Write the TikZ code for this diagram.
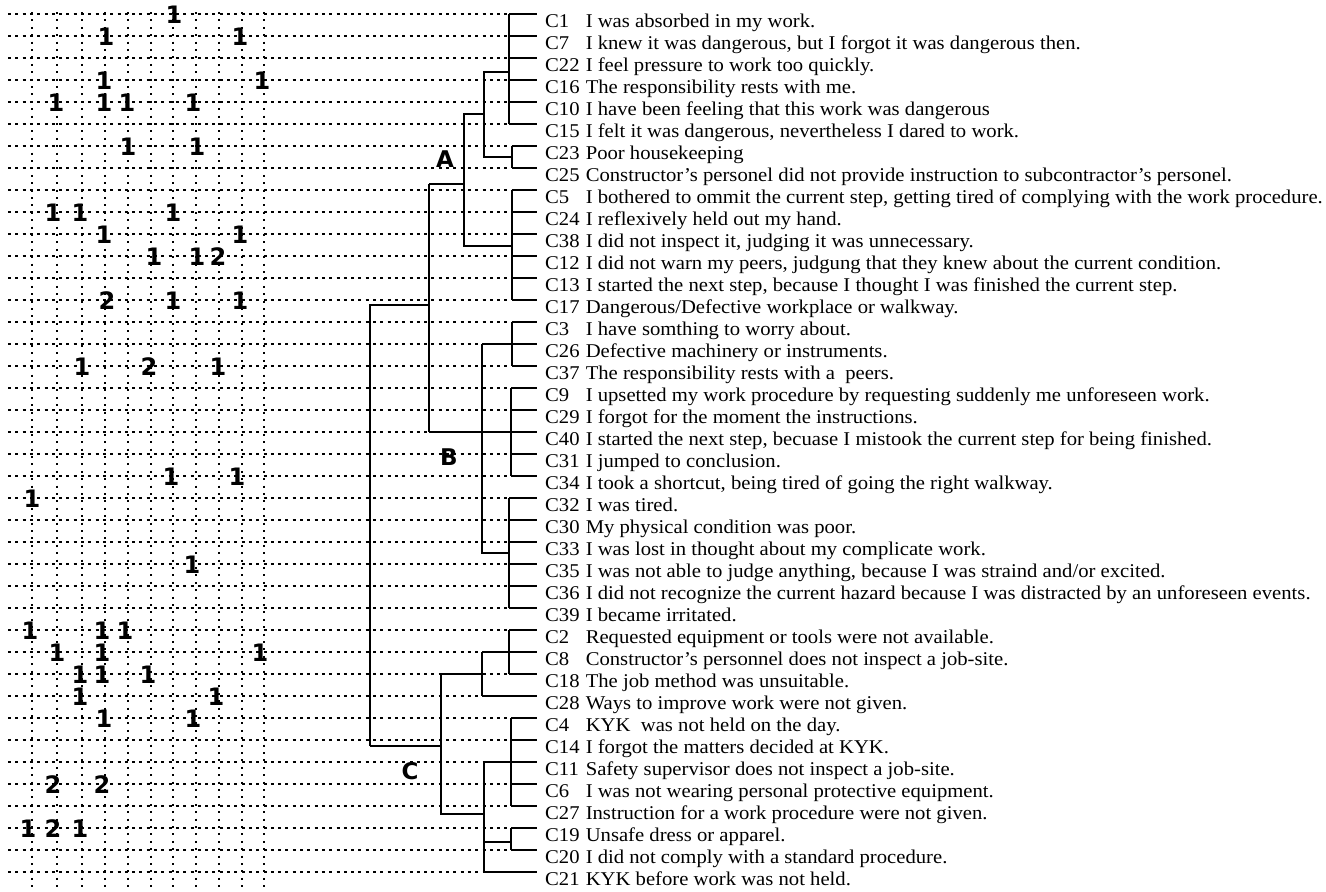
\documentclass[tikz,border=0pt]{standalone}
\usepackage{fontspec}
\setmainfont{Liberation Serif}[FakeStretch=1.06]
\newfontfamily\digitfont{DejaVu Sans}
\usepackage{xcolor}

% fixed slot for the item code
\newcommand{\codebox}[1]{\makebox[2.08em][l]{#1}}

\begin{document}
\begin{tikzpicture}[x=1pt,y=-1pt,
  rowline/.style={line width=1.5pt, dash pattern=on 3pt off 4.3pt},
  colline/.style={line width=1.6pt, dash pattern=on 2pt off 5.4pt},
  tree/.style={line width=1.6pt},
  cnt/.style={font=\digitfont\bfseries\fontsize{24}{24}\selectfont, inner sep=0pt},
  lab/.style={anchor=base west, inner sep=0pt, font=\fontsize{19.5}{19.5}\selectfont},
  grp/.style={font=\digitfont\bfseries\fontsize{23}{23}\selectfont, inner sep=0pt}]

\useasboundingbox (0,0) rectangle (1326,892);

% Grid: 11 dotted columns
\foreach \x in {32,57,82,105,128,151,173,196,219,242,264}
  \draw[colline] (\x,12) -- (\x,892);

% one dotted row per item, solid stub into the tree
\foreach \r/\xs in {1/509,2/509,3/509,4/509,5/509,6/509,7/512,8/512,
    9/512,10/512,11/512,12/512,13/512,14/512,15/512,16/482,17/512,
    18/511,19/511,20/429,21/511,22/511,23/509,24/509,25/509,26/509,
    27/509,28/509,29/509,30/482,31/509,32/482,33/511,34/511,35/484,
    36/511,37/511,38/511,39/511,40/484}{
  \draw[rowline] (8,{14+22*(\r-1)}) -- (\xs,{14+22*(\r-1)});
  \draw[tree] (\xs,{14+22*(\r-1)}) -- (537,{14+22*(\r-1)});
}

% counts in the grid
\foreach \x/\r/\v [count=\k] in {174/1/1,106/2/1,240/2/1,104/4/1,262/4/1,
    56/5/1,104/5/1,127/5/1,193/5/1,128/7/1,197/7/1,53/10/1,80/10/1,
    173/10/1,104/11/1,240/11/1,154/12/1,197/12/1,218/12/2,107/14/2,
    173/14/1,240/14/1,82/17/1,149/17/2,218/17/1,171/22/1,237/22/1,
    32/23/1,192/26/1,30/29/1,102/29/1,125/29/1,57/30/1,102/30/1,
    260/30/1,80/31/1,102/31/1,148/31/1,80/32/1,216/32/1,104/33/1,
    193/33/1,53/36/2,102/36/2,28/38/1,53/38/2,80/38/1}
  \node[cnt] (n\k) at (\x,{15+22*(\r-1)}) {\v};

% cluster A
\draw[tree] (509,14) -- (509,124);
\draw[tree] (509,72) -- (484,72) -- (484,157) -- (512,157);
\draw[tree] (512,146) -- (512,168);
\draw[tree] (484,114) -- (464,114) -- (464,246) -- (512,246);
\draw[tree] (512,190) -- (512,300);
\draw[tree] (464,184) -- (429,184);

% cluster B
\draw[tree] (512,322) -- (512,366);
\draw[tree] (511,388) -- (511,476);
\draw[tree] (509,498) -- (509,608);
\draw[tree] (482,344) -- (482,553) -- (509,553);

% A + B
\draw[tree] (429,184) -- (429,432);
\draw[tree] (429,305) -- (370,305) -- (370,746);

% cluster C
\draw[tree] (509,630) -- (509,674);
\draw[tree] (482,652) -- (482,696);
\draw[tree] (482,674) -- (441,674) -- (441,814) -- (484,814);
\draw[tree] (511,718) -- (511,806);
\draw[tree] (511,828) -- (511,850);
\draw[tree] (484,762) -- (484,872);
\draw[tree] (484,842) -- (511,842);
\draw[tree] (441,746) -- (370,746);

% group letters
\node[grp] (ga) at (445,159) {A};
\node[grp] (gb) at (449,457) {B};
\node[grp] (gc) at (410,771) {C};

% item labels
\node[lab] (c1)  at (545,27)  {\codebox{C1}I was absorbed in my work.};
\node[lab] (c7)  at (545,49)  {\codebox{C7}I knew it was dangerous, but I forgot it was dangerous then.};
\node[lab] (c22) at (545,71)  {\codebox{C22}I feel pressure to work too quickly.};
\node[lab] (c16) at (545,93)  {\codebox{C16}The responsibility rests with me.};
\node[lab] (c10) at (545,115) {\codebox{C10}I have been feeling that this work was dangerous};
\node[lab] (c15) at (545,137) {\codebox{C15}I felt it was dangerous, nevertheless I dared to work.};
\node[lab] (c23) at (545,159) {\codebox{C23}Poor housekeeping};
\node[lab] (c25) at (545,181) {\codebox{C25}Constructor's personel did not provide instruction to subcontractor's personel.};
\node[lab] (c5)  at (545,203) {\codebox{C5}I bothered to ommit the current step, getting tired of complying with the work procedure.};
\node[lab] (c24) at (545,225) {\codebox{C24}I reflexively held out my hand.};
\node[lab] (c38) at (545,247) {\codebox{C38}I did not inspect it, judging it was unnecessary.};
\node[lab] (c12) at (545,269) {\codebox{C12}I did not warn my peers, judgung that they knew about the current condition.};
\node[lab] (c13) at (545,291) {\codebox{C13}I started the next step, because I thought I was finished the current step.};
\node[lab] (c17) at (545,313) {\codebox{C17}Dangerous/Defective workplace or walkway.};
\node[lab] (c3)  at (545,335) {\codebox{C3}I have somthing to worry about.};
\node[lab] (c26) at (545,357) {\codebox{C26}Defective machinery or instruments.};
\node[lab] (c37) at (545,379) {\codebox{C37}The responsibility rests with a\ \ peers.};
\node[lab] (c9)  at (545,401) {\codebox{C9}I upsetted my work procedure by requesting suddenly me unforeseen work.};
\node[lab] (c29) at (545,423) {\codebox{C29}I forgot for the moment the instructions.};
\node[lab] (c40) at (545,445) {\codebox{C40}I started the next step, becuase I mistook the current step for being finished.};
\node[lab] (c31) at (545,467) {\codebox{C31}I jumped to conclusion.};
\node[lab] (c34) at (545,489) {\codebox{C34}I took a shortcut, being tired of going the right walkway.};
\node[lab] (c32) at (545,511) {\codebox{C32}I was tired.};
\node[lab] (c30) at (545,533) {\codebox{C30}My physical condition was poor.};
\node[lab] (c33) at (545,555) {\codebox{C33}I was lost in thought about my complicate work.};
\node[lab] (c35) at (545,577) {\codebox{C35}I was not able to judge anything, because I was straind and/or excited.};
\node[lab] (c36) at (545,599) {\codebox{C36}I did not recognize the current hazard because I was distracted by an unforeseen events.};
\node[lab] (c39) at (545,621) {\codebox{C39}I became irritated.};
\node[lab] (c2)  at (545,643) {\codebox{C2}Requested equipment or tools were not available.};
\node[lab] (c8)  at (545,665) {\codebox{C8}Constructor's personnel does not inspect a job-site.};
\node[lab] (c18) at (545,687) {\codebox{C18}The job method was unsuitable.};
\node[lab] (c28) at (545,709) {\codebox{C28}Ways to improve work were not given.};
\node[lab] (c4)  at (545,731) {\codebox{C4}KYK\ \ was not held on the day.};
\node[lab] (c14) at (545,753) {\codebox{C14}I forgot the matters decided at KYK.};
\node[lab] (c11) at (545,775) {\codebox{C11}Safety supervisor does not inspect a job-site.};
\node[lab] (c6)  at (545,797) {\codebox{C6}I was not wearing personal protective equipment.};
\node[lab] (c27) at (545,819) {\codebox{C27}Instruction for a work procedure were not given.};
\node[lab] (c19) at (545,841) {\codebox{C19}Unsafe dress or apparel.};
\node[lab] (c20) at (545,863) {\codebox{C20}I did not comply with a standard procedure.};
\node[lab] (c21) at (545,885) {\codebox{C21}KYK before work was not held.};

\end{tikzpicture}
\end{document}
